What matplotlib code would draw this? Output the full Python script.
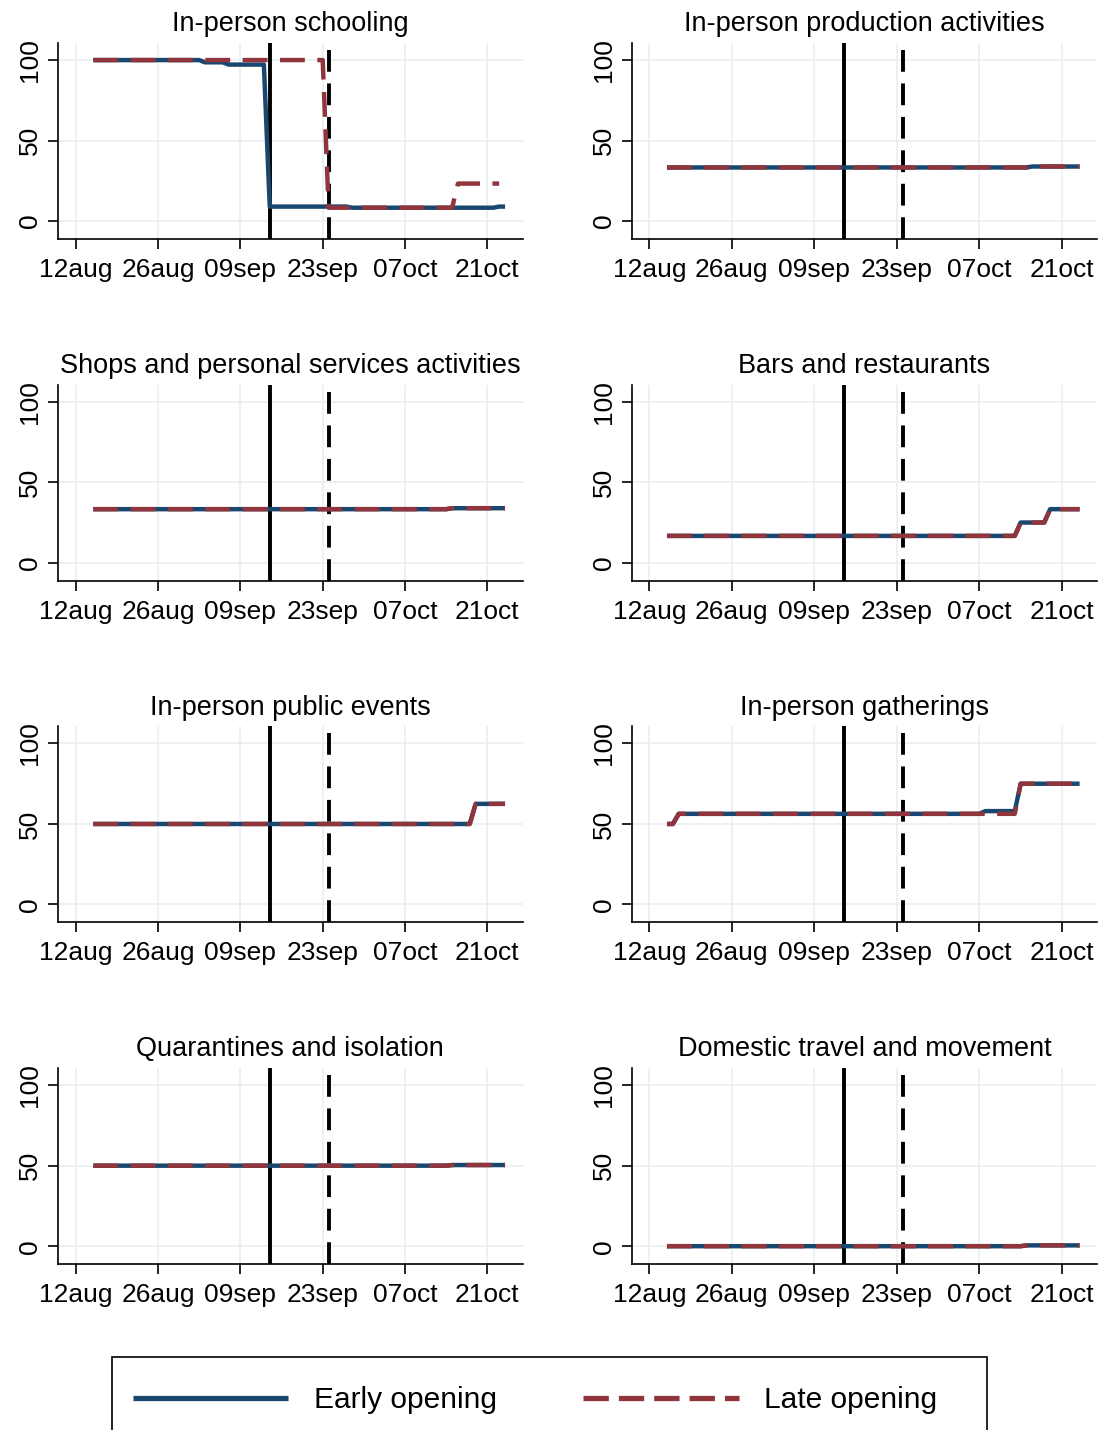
#!/usr/bin/env python
"""Early vs late school opening: policy sub-indices, Aug-Oct 2020.

Eight small panels (one per policy dimension) with the early-opening and
late-opening group averages.  The solid vertical line marks the early
opening date, the dashed one the late opening date.

Output:
    out.png
"""
from __future__ import annotations

import matplotlib

matplotlib.use("Agg")  # no display in the sandbox
import matplotlib.dates as mdates
import matplotlib.pyplot as plt
import numpy as np
from matplotlib.lines import Line2D
from matplotlib.patches import Rectangle
from matplotlib.ticker import FuncFormatter

# --- data: daily series kept as breakpoints (flat between them) ----------
SCHOOL_EARLY_DATES = ["2020-08-15", "2020-09-02", "2020-09-03", "2020-09-06",
                      "2020-09-07", "2020-09-13", "2020-09-14", "2020-09-27",
                      "2020-09-28", "2020-10-22", "2020-10-23", "2020-10-24"]
SCHOOL_EARLY = [100, 100, 98.6, 98.6, 97.2, 97.2, 9.0, 9.0, 8.3, 8.3, 9.0, 9.0]
SCHOOL_LATE_DATES = ["2020-08-15", "2020-09-23", "2020-09-24", "2020-10-15",
                     "2020-10-16", "2020-10-23"]
SCHOOL_LATE = [100, 100, 8.3, 8.3, 23.3, 23.3]

PRODUCTION_DATES = ["2020-08-15", "2020-10-15", "2020-10-16", "2020-10-24"]
PRODUCTION_EARLY = [33.3, 33.3, 33.9, 33.9]
PRODUCTION_LATE = [33.3, 33.3, 33.9, 33.9]

SHOPS_DATES = ["2020-08-15", "2020-10-14", "2020-10-15", "2020-10-24"]
SHOPS_EARLY = [33.3, 33.3, 33.9, 33.9]
SHOPS_LATE = [33.3, 33.3, 33.9, 33.9]

BARS_DATES = ["2020-08-15", "2020-10-13", "2020-10-14", "2020-10-18",
              "2020-10-19", "2020-10-24"]
BARS_EARLY = [16.7, 16.7, 25.0, 25.0, 33.3, 33.3]
BARS_LATE = [16.7, 16.7, 25.0, 25.0, 33.3, 33.3]

EVENTS_DATES = ["2020-08-15", "2020-10-18", "2020-10-19", "2020-10-24"]
EVENTS_EARLY = [50.0, 50.0, 62.5, 62.5]
EVENTS_LATE = [50.0, 50.0, 62.5, 62.5]

GATHER_EARLY_DATES = ["2020-08-15", "2020-08-16", "2020-08-17", "2020-10-07",
                      "2020-10-08", "2020-10-13", "2020-10-14", "2020-10-24"]
GATHER_EARLY = [50.0, 50.0, 56.3, 56.3, 58.0, 58.0, 75.0, 75.0]
GATHER_LATE_DATES = ["2020-08-15", "2020-08-16", "2020-08-17", "2020-10-13",
                     "2020-10-14", "2020-10-24"]
GATHER_LATE = [50.0, 50.0, 56.3, 56.3, 75.0, 75.0]

QUARANTINE_DATES = ["2020-08-15", "2020-10-14", "2020-10-15", "2020-10-24"]
QUARANTINE_EARLY = [50.0, 50.0, 50.4, 50.4]
QUARANTINE_LATE = [50.0, 50.0, 50.4, 50.4]

TRAVEL_DATES = ["2020-08-15", "2020-10-14", "2020-10-15", "2020-10-24"]
TRAVEL_EARLY = [0.0, 0.0, 0.5, 0.5]
TRAVEL_LATE = [0.0, 0.0, 0.5, 0.5]

EARLY_OPENING = "2020-09-14"
LATE_OPENING = "2020-09-24"
X_TICKS = ["2020-08-12", "2020-08-26", "2020-09-09", "2020-09-23",
           "2020-10-07", "2020-10-21"]
Y_TICKS = [0, 50, 100]
SERIES_LABELS = ["Early opening", "Late opening"]

PANELS = [
    ("In-person schooling", SCHOOL_EARLY_DATES, SCHOOL_EARLY,
     SCHOOL_LATE_DATES, SCHOOL_LATE),
    ("In-person production activities", PRODUCTION_DATES, PRODUCTION_EARLY,
     PRODUCTION_DATES, PRODUCTION_LATE),
    ("Shops and personal services activities", SHOPS_DATES, SHOPS_EARLY,
     SHOPS_DATES, SHOPS_LATE),
    ("Bars and restaurants", BARS_DATES, BARS_EARLY, BARS_DATES, BARS_LATE),
    ("In-person public events", EVENTS_DATES, EVENTS_EARLY,
     EVENTS_DATES, EVENTS_LATE),
    ("In-person gatherings", GATHER_EARLY_DATES, GATHER_EARLY,
     GATHER_LATE_DATES, GATHER_LATE),
    ("Quarantines and isolation", QUARANTINE_DATES, QUARANTINE_EARLY,
     QUARANTINE_DATES, QUARANTINE_LATE),
    ("Domestic travel and movement", TRAVEL_DATES, TRAVEL_EARLY,
     TRAVEL_DATES, TRAVEL_LATE),
]

# --- style (Stata s2color look) -------------------------------------------
NAVY = "#1a476f"
MAROON = "#90353b"
GRID = "#e7eff1"
FONT = ["Liberation Sans", "DejaVu Sans"]
W_PX, H_PX = 1101, 1430
COL_LEFT = (58.0, 631.6)      # px
COL_WIDTH = (464.7, 465.7)    # px
ROW_TOP, ROW_STEP, AX_H = 43.0, 341.7, 195.8
XLIM = ("2020-08-09", "2020-10-27")
YLIM = (-11.0, 110.6)


def days(values):
    return np.array(values, dtype="datetime64[D]")


def fmt_date(x, _pos):
    return mdates.num2date(x).strftime("%d%b").lower()


def make_figure() -> plt.Figure:
    plt.rcParams["font.family"] = FONT
    fig = plt.figure(figsize=(W_PX / 100, H_PX / 100), dpi=100)

    for i, (title, e_dates, e_vals, l_dates, l_vals) in enumerate(PANELS):
        row, col = divmod(i, 2)
        top = ROW_TOP + row * ROW_STEP
        ax = fig.add_axes([
            COL_LEFT[col] / W_PX,
            1 - (top + AX_H) / H_PX,
            COL_WIDTH[col] / W_PX,
            AX_H / H_PX,
        ])

        ax.axvline(days(EARLY_OPENING), color="black", lw=2.8, zorder=2)
        ax.axvline(days(LATE_OPENING), color="black", lw=2.8,
                   dashes=(5.6, 3.0), zorder=2)
        ax.plot(days(e_dates), e_vals, color=NAVY, lw=3.2,
                solid_capstyle="butt", zorder=3)
        ax.plot(days(l_dates), l_vals, color=MAROON, lw=3.2,
                dashes=(5.6, 2.8), dash_capstyle="butt", zorder=4)

        ax.set_xlim(days(XLIM[0]), days(XLIM[1]))
        ax.set_ylim(*YLIM)
        ax.set_xticks(days(X_TICKS))
        ax.xaxis.set_major_formatter(FuncFormatter(fmt_date))
        ax.set_yticks(Y_TICKS)
        ax.grid(True, color=GRID, lw=1.1, zorder=0)
        ax.set_axisbelow(True)

        for side in ("top", "right"):
            ax.spines[side].set_visible(False)
        for side in ("left", "bottom"):
            ax.spines[side].set_linewidth(1.2)

        ax.tick_params(axis="both", length=7.2, width=1.2, labelsize=19)
        ax.tick_params(axis="x", pad=6.5)
        ax.tick_params(axis="y", pad=4)
        for lab in ax.get_yticklabels():
            lab.set_rotation(90)
            lab.set_va("center")

        ax.set_title(title, fontsize=19.5, pad=8.5)

    # legend box, cut off by the bottom edge as in the source figure
    fig.patches.append(Rectangle(
        (112 / W_PX, -0.02), (987 - 112) / W_PX, 0.02 + 1 - 1357 / H_PX,
        transform=fig.transFigure, fill=False, edgecolor="black", lw=1.2,
    ))
    handles = [
        Line2D([], [], color=NAVY, lw=3.8, solid_capstyle="butt"),
        Line2D([], [], color=MAROON, lw=3.8, dashes=(4.8, 1.9),
               dash_capstyle="butt"),
    ]
    fig.legend(
        handles, SERIES_LABELS,
        loc="center left",
        bbox_to_anchor=(133 / W_PX, 1 - 1400 / H_PX),
        ncol=2, frameon=False, fontsize=21.5,
        handlelength=5.2, handletextpad=0.85, columnspacing=2.9,
        borderpad=0, borderaxespad=0,
    )
    return fig


def main() -> int:
    fig = make_figure()
    fig.savefig("out.png", dpi=100)
    plt.close(fig)
    return 0


if __name__ == "__main__":
    raise SystemExit(main())
